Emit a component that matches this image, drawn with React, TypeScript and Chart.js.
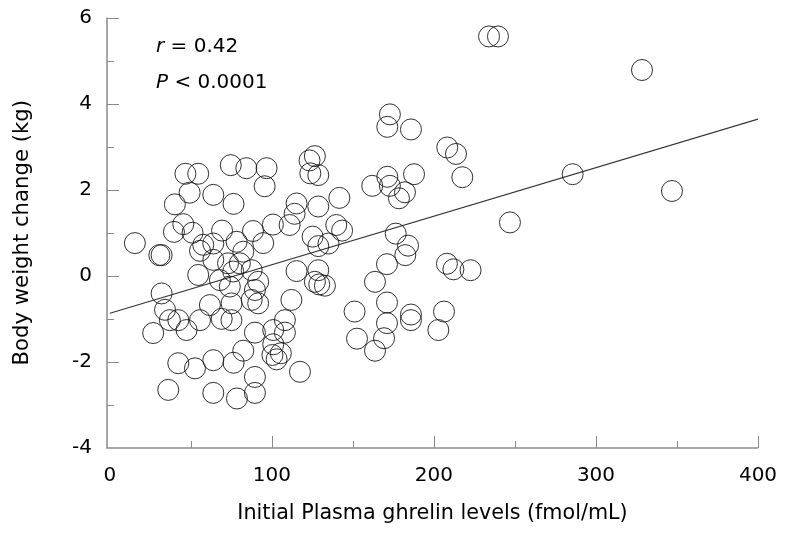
import React, { useEffect, useRef } from "react";
import { Chart, registerables } from "chart.js";

Chart.register(...registerables);

// Initial plasma ghrelin (fmol/mL)
const ghrelin = [
  15.4, 30.5, 31.9, 31.9, 34, 37, 42.2, 26.7, 47.3, 55.6,
  42.2, 52.5, 36, 39.5, 45.3, 51, 40.1, 46.6, 54.5, 49.2,
  57.6, 55.6, 54.5, 63.8, 76.3, 74.6, 84.2, 96.7, 95.5, 69.2,
  88.3, 63.8, 78.2, 82.3, 94.6, 63.8, 72.9, 80.2, 87.5, 67.9,
  74, 89.5, 91.5, 87.5, 91.5, 61.7, 75.1, 75, 69, 89.5,
  100.8, 108, 108, 112, 82.3, 100.8, 105.5, 100.3, 102.9, 76.3,
  63.8, 117.3, 89.5, 89.5, 63.8, 78.4, 76.1, 115.2, 128.6, 126.5,
  129.2, 132.7, 123.2, 126.5, 123.7, 128.6, 141.6, 115.2, 128.6, 114,
  110.9, 100.6, 139.7, 143.3, 125.1, 128.6, 134.9, 151, 152.5, 172.8,
  171.2, 185.8, 208.2, 213.6, 217.5, 161.9, 171.2, 187.7, 172.8, 182.1,
  178.4, 176.4, 184, 182.3, 171, 163.6, 208, 212, 222.6, 171,
  185.8, 185.8, 206.2, 202.7, 169.2, 163.6, 171, 246.9, 234, 239.5,
  285.6, 328.4, 346.9,
];

// Body weight change (kg)
const weightChange = [
  0.76, 0.48, 0.48, -0.41, -0.79, -1.03, -1.03, -1.33, -1.26, -1.03,
  -2.03, -2.15, -2.65, 1.02, 1.2, 1.0, 1.66, 2.37, 2.37, 1.93,
  0.72, 0.58, 0.02, 1.88, 1.67, 2.57, 2.5, 2.5, 2.08, 1.05,
  1.04, 0.75, 0.79, 0.56, 0.76, 0.37, 0.29, 0.29, 0.13, -0.1,
  -0.25, -0.33, -0.14, -0.56, -0.64, -0.68, -0.64, -1.03, -1.0, -1.32,
  -1.26, -1.03, -1.32, -0.56, -1.74, -1.59, -1.8, -1.84, -1.94, -2.02,
  -1.96, -2.23, -2.35, -2.72, -2.72, -2.85, 0.1, 0.11, 0.13, -0.14,
  -0.2, -0.23, 2.68, 2.78, 2.38, 2.34, 1.81, 1.68, 1.61, 1.44,
  1.18, 1.19, 1.18, 1.05, 0.91, 0.69, 0.75, -0.83, -1.46, 3.75,
  3.46, 3.4, 2.98, 2.83, 2.29, 2.09, 2.3, 2.36, 2.09, 1.94,
  1.8, 0.98, 0.7, 0.48, 0.27, -0.14, 0.28, 0.15, 0.13, -0.62,
  -0.9, -1.03, -0.83, -1.26, -1.45, -1.74, -1.1, 1.24, 5.56, 5.56,
  2.36, 4.78, 1.97,
];

// Regression line end points
const fitX = [0, 400];
const fitY = [-0.87, 3.64];

const xTickLabels = [0, 100, 200, 300, 400];
const xMinorTicks = [50, 100, 150, 200, 250, 300, 350, 400];
const yTickLabels = [-4, -2, 0, 2, 4, 6];
const yMinorTicks = [-3, -2, -1, 0, 1, 2, 3, 4, 5, 6];

const statR = "0.42";
const statP = "0.0001";

const FONT = "'DejaVu Sans', Verdana, sans-serif";
const AXIS_COLOR = "#8a8a8a";

const axesPlugin = {
  id: "customAxes",
  afterDraw(chart: any) {
    const { ctx, chartArea, scales } = chart;
    const xs = scales.x;
    const ys = scales.y;
    ctx.save();
    ctx.strokeStyle = AXIS_COLOR;
    ctx.lineWidth = 1.5;
    ctx.beginPath();
    ctx.moveTo(chartArea.left, chartArea.top);
    ctx.lineTo(chartArea.left, chartArea.bottom);
    ctx.lineTo(chartArea.right, chartArea.bottom);
    ctx.stroke();
    ctx.lineWidth = 1;
    ctx.beginPath();
    xMinorTicks.forEach((v) => {
      const px = Math.round(xs.getPixelForValue(v)) + 0.5;
      const len = v % 100 === 0 ? 12 : 7;
      ctx.moveTo(px, chartArea.bottom);
      ctx.lineTo(px, chartArea.bottom - len);
    });
    yMinorTicks.forEach((v) => {
      const py = Math.round(ys.getPixelForValue(v)) + 0.5;
      const len = v % 2 === 0 ? 12 : 7;
      ctx.moveTo(chartArea.left, py);
      ctx.lineTo(chartArea.left + len, py);
    });
    ctx.stroke();

    // statistics annotation
    ctx.fillStyle = "#000";
    ctx.textBaseline = "alphabetic";
    ctx.textAlign = "left";
    const x0 = 156;
    ctx.font = `italic 20px ${FONT}`;
    ctx.fillText("r", x0, 52);
    let w = ctx.measureText("r").width;
    ctx.font = `20px ${FONT}`;
    ctx.fillText(" = " + statR, x0 + w, 52);
    ctx.font = `italic 20px ${FONT}`;
    ctx.fillText("P", x0, 88);
    w = ctx.measureText("P").width;
    ctx.font = `20px ${FONT}`;
    ctx.fillText(" < " + statP, x0 + w, 88);
    ctx.restore();
  },
};

export default function App() {
  const ref = useRef<HTMLCanvasElement | null>(null);

  useEffect(() => {
    if (!ref.current) return;
    const points = ghrelin.map((x, i) => ({ x, y: weightChange[i] }));
    const fit = fitX.map((x, i) => ({ x, y: fitY[i] }));
    const chart = new Chart(ref.current, {
      type: "scatter",
      data: {
        datasets: [
          {
            type: "scatter",
            data: points,
            pointRadius: 10.5,
            pointBorderWidth: 0.9,
            pointBorderColor: "#1a1a1a",
            pointBackgroundColor: "rgba(0,0,0,0)",
          } as any,
          {
            type: "line",
            data: fit,
            borderColor: "#333",
            borderWidth: 1.1,
            pointRadius: 0,
            fill: false,
          } as any,
        ],
      },
      plugins: [axesPlugin],
      options: {
        animation: false,
        responsive: false,
        maintainAspectRatio: false,
        layout: { padding: { top: 17.5, right: 27, left: 0, bottom: 0 } },
        plugins: {
          legend: { display: false },
          tooltip: { enabled: false },
        },
        scales: {
          x: {
            type: "linear",
            min: -1.8,
            max: 400,
            border: { display: false },
            grid: { display: false, drawTicks: true, tickLength: 16, color: "rgba(0,0,0,0)" },
            afterBuildTicks: (scale: any) => {
              scale.ticks = xTickLabels.map((v) => ({ value: v }));
            },
            afterFit: (scale: any) => {
              scale.height = 87;
            },
            ticks: {
              padding: 0,
              color: "#000",
              font: { family: FONT, size: 20 },
              maxRotation: 0,
              autoSkip: false,
            },
            title: {
              display: true,
              text: "Initial Plasma ghrelin levels (fmol/mL)",
              color: "#000",
              font: { family: FONT, size: 20.7 },
              padding: { top: 0, bottom: 9 },
            },
          },
          y: {
            type: "linear",
            min: -4,
            max: 6,
            border: { display: false },
            grid: { display: false, drawTicks: true, tickLength: 15, color: "rgba(0,0,0,0)" },
            afterBuildTicks: (scale: any) => {
              scale.ticks = yTickLabels.map((v) => ({ value: v }));
            },
            afterFit: (scale: any) => {
              scale.width = 107;
            },
            ticks: {
              padding: 0,
              color: "#000",
              font: { family: FONT, size: 20 },
              autoSkip: false,
            },
            title: {
              display: true,
              text: "Body weight change (kg)",
              color: "#000",
              font: { family: FONT, size: 21.2 },
              padding: { top: 10, bottom: 0 },
            },
          },
        },
      } as any,
    });
    return () => chart.destroy();
  }, []);

  return (
    <div style={{ position: "absolute", left: 0, top: 0, width: 785, height: 535, background: "#fff" }}>
      <canvas ref={ref} width={785} height={535} style={{ width: 785, height: 535, display: "block" }} />
    </div>
  );
}
